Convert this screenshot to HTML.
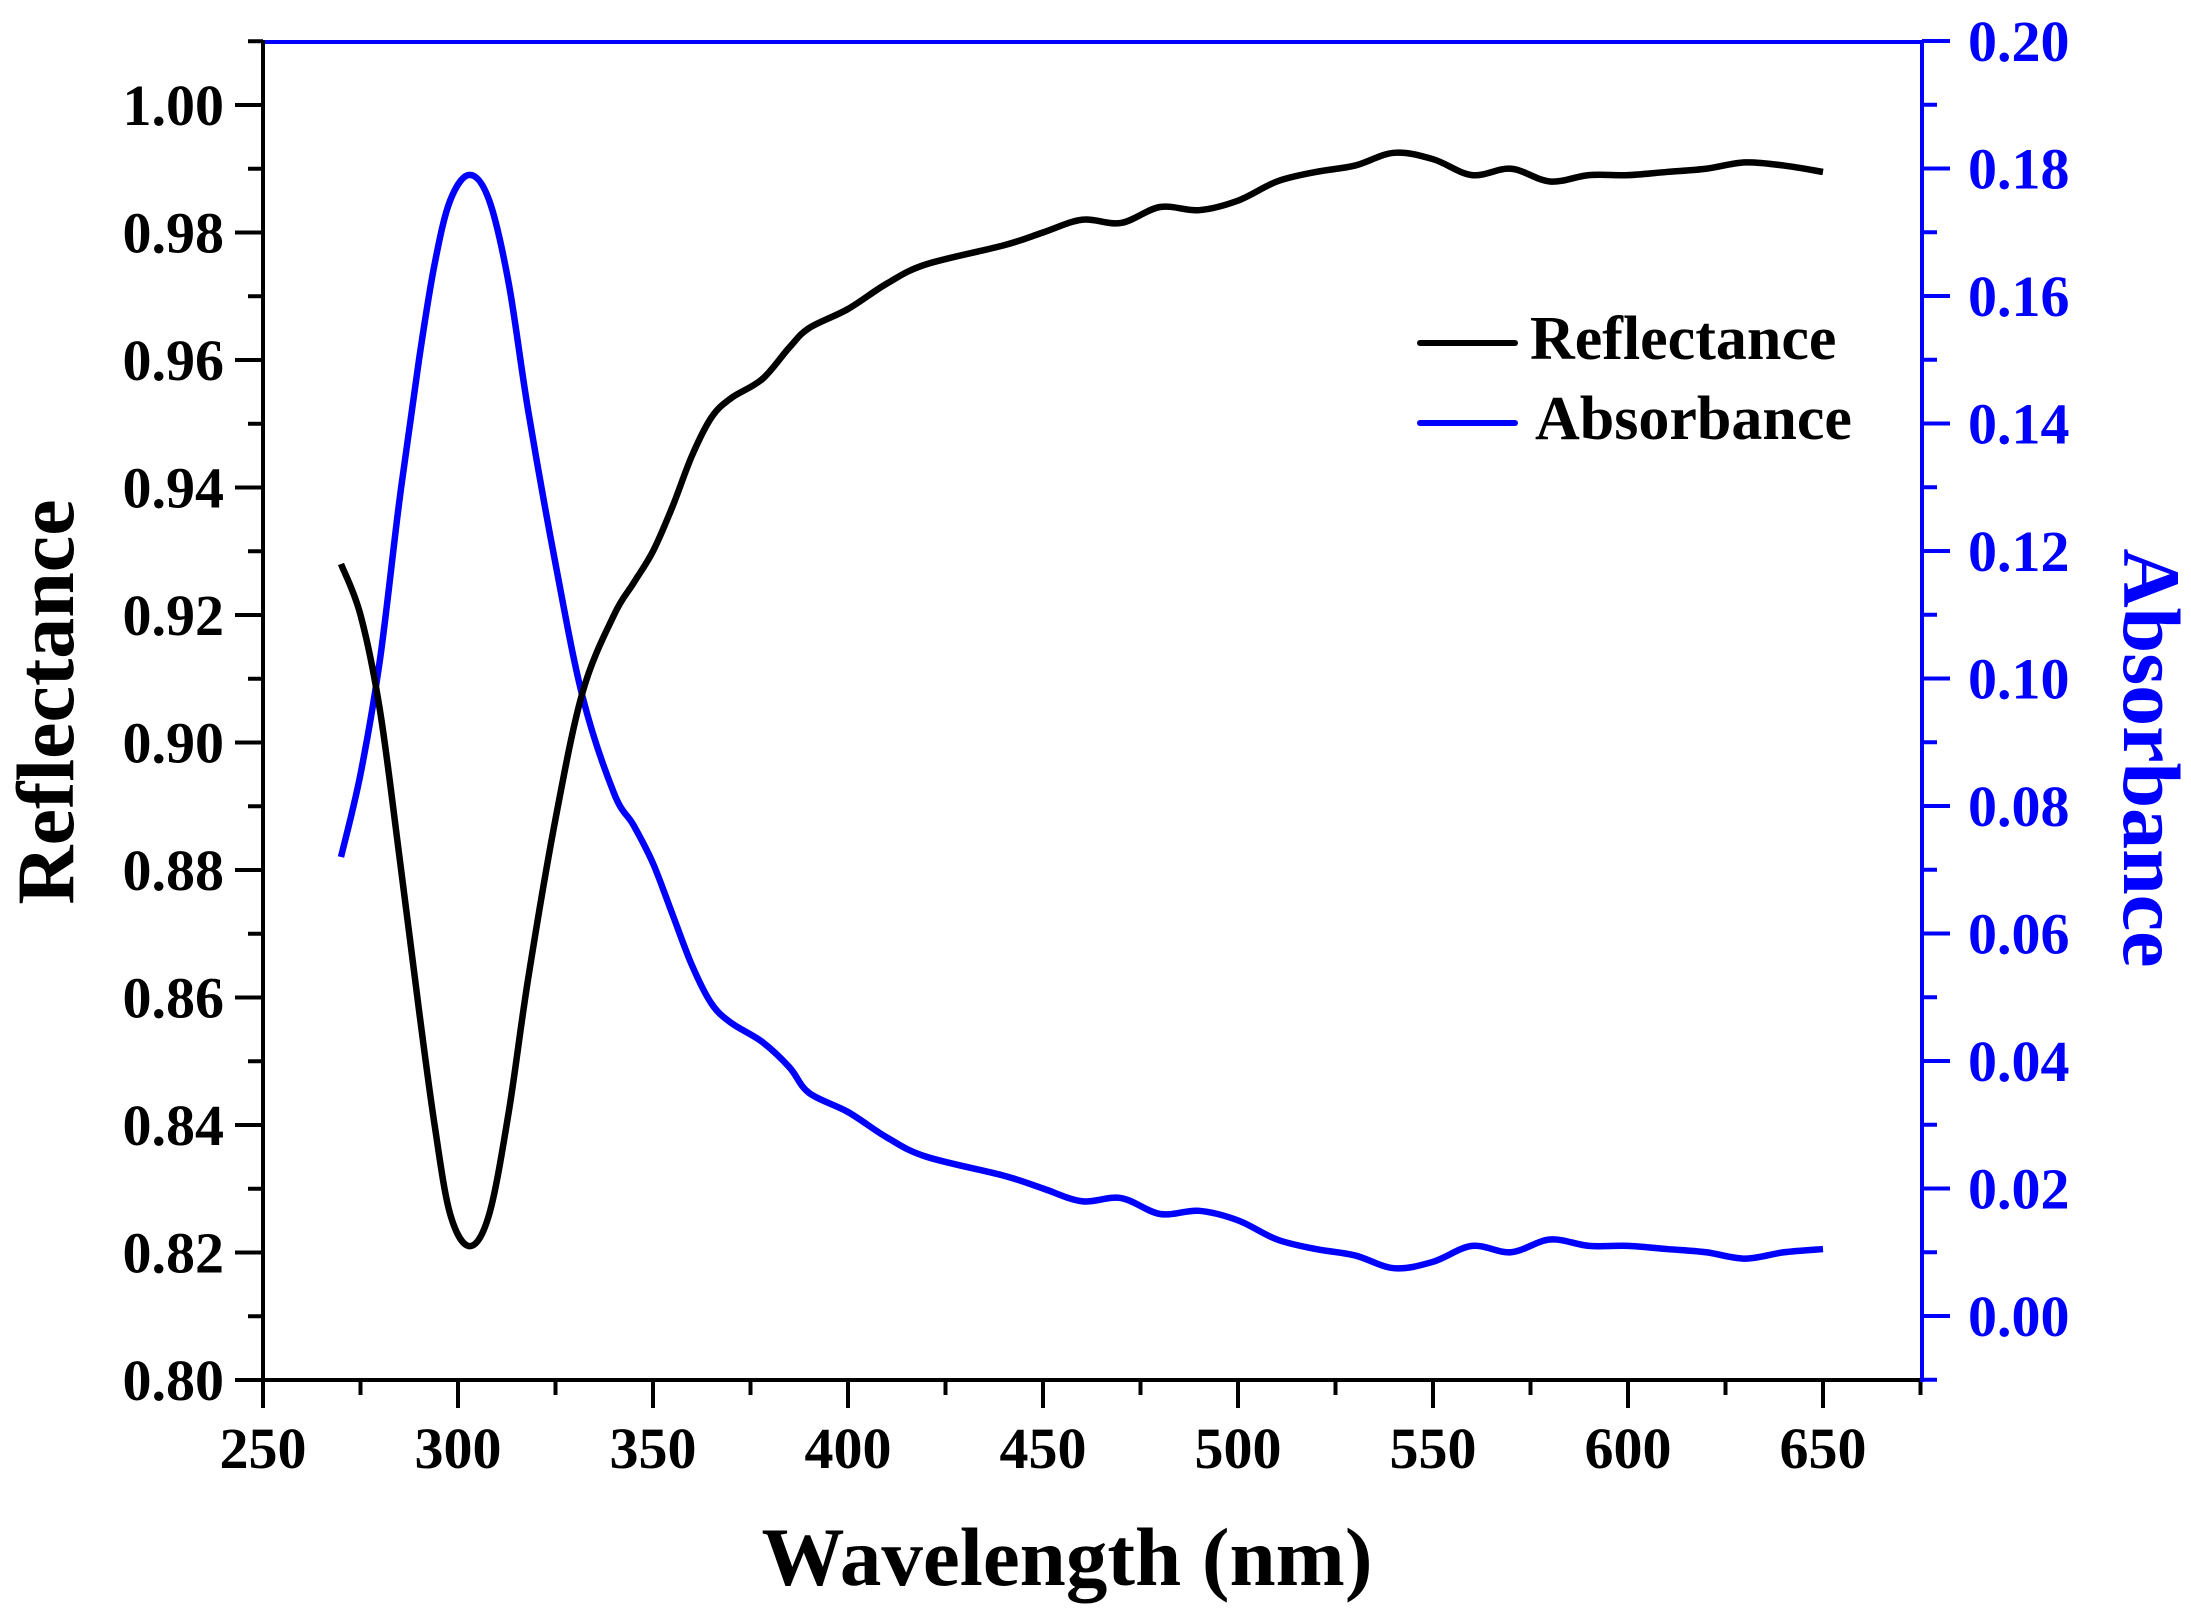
<!DOCTYPE html>
<html><head><meta charset="utf-8"><style>
html,body{margin:0;padding:0;background:#fff;}
svg{display:block;}
text{font-family:"Liberation Serif",serif;font-weight:bold;}
</style></head><body>
<svg id="s" width="2191" height="1612" viewBox="0 0 2191 1612" xmlns="http://www.w3.org/2000/svg">
<g id="g"></g>
<line x1="263" y1="42" x2="1922" y2="42" stroke="#0000ff" stroke-width="4"/>
<line x1="263" y1="40" x2="263" y2="1382" stroke="#000" stroke-width="4"/>
<line x1="261" y1="1380" x2="1922" y2="1380" stroke="#000" stroke-width="4"/>
<line x1="1922" y1="40" x2="1922" y2="1382" stroke="#0000ff" stroke-width="4"/>
<line x1="1420" y1="343" x2="1515" y2="343" stroke="#000" stroke-width="6" stroke-linecap="round"/>
<line x1="1420" y1="423" x2="1515" y2="423" stroke="#0000ff" stroke-width="6" stroke-linecap="round"/>
<text x="1530" y="359" font-size="62">Reflectance</text>
<text x="1535" y="439" font-size="62">Absorbance</text>
<text x="1067" y="1585" font-size="83" text-anchor="middle">Wavelength (nm)</text>
<text transform="translate(73,702) rotate(-90)" font-size="82" text-anchor="middle">Reflectance</text>
<text transform="translate(2124,758) rotate(90)" font-size="82" text-anchor="middle" fill="#0000ff">Absorbance</text>
</svg>
<script>
var g=document.getElementById('g'),NS='http://www.w3.org/2000/svg';
function X(n){return 263+(n-250)*3.9;}
function YL(v){return 1380-(v-0.80)/0.02*127.5;}
function YR(v){return 1316-v/0.02*127.5;}
function el(t,a,txt){var e=document.createElementNS(NS,t);for(var k in a)e.setAttribute(k,a[k]);if(txt)e.textContent=txt;g.appendChild(e);return e;}
for(var n=250;n<=675;n+=25){var maj=(n%50==0);el('line',{x1:X(n),y1:1380,x2:X(n),y2:1380+(maj?28:15),stroke:'#000','stroke-width':4});
 if(maj&&n<=650)el('text',{x:X(n),y:1468,'font-size':58,'text-anchor':'middle'},String(n));}
for(var i=0;i<=21;i++){var v=0.80+i*0.01,y=YL(v),maj=(i%2==0);el('line',{x1:263,y1:y,x2:263-(maj?28:15),y2:y,stroke:'#000','stroke-width':4});
 if(maj)el('text',{x:224,y:y+20,'font-size':58,'text-anchor':'end'},v.toFixed(2));}
for(var i=-1;i<=20;i++){var v=i*0.01,y=YR(v),maj=(i%2==0);el('line',{x1:1922,y1:y,x2:1922+(maj?28:15),y2:y,stroke:'#0000ff','stroke-width':4});
 if(maj&&i>=0)el('text',{x:1968,y:y+20,'font-size':58,fill:'#0000ff'},v.toFixed(2));}
var R=[[270,.928],[275,.920],[280,.905],[285,.882],[290,.858],[294,.840],[298,.826],[303,.821],[308,.826],[313,.842],[318,.863],[325,.888],[332,.908],[340,.920],[345,.925],[350,.930],[355,.937],[360,.945],[365,.951],[370,.954],[378,.957],[385,.962],[390,.965],[400,.968],[410,.972],[420,.975],[440,.978],[450,.980],[460,.982],[470,.9815],[480,.984],[490,.9835],[500,.985],[510,.988],[520,.9895],[530,.9905],[540,.9925],[550,.9915],[560,.989],[570,.990],[580,.988],[590,.989],[600,.989],[610,.9895],[620,.990],[630,.991],[640,.9905],[650,.9895]];
var A=[[270,.072],[275,.085],[280,.103],[285,.128],[290,.150],[294,.165],[298,.175],[303,.179],[308,.175],[313,.162],[318,.142],[325,.118],[332,.097],[340,.082],[345,.077],[350,.071],[355,.063],[360,.055],[365,.049],[370,.046],[378,.043],[385,.039],[390,.035],[400,.032],[410,.028],[420,.025],[440,.022],[450,.020],[460,.018],[470,.0185],[480,.016],[490,.0165],[500,.015],[510,.012],[520,.0105],[530,.0095],[540,.0075],[550,.0085],[560,.011],[570,.010],[580,.012],[590,.011],[600,.011],[610,.0105],[620,.010],[630,.009],[640,.010],[650,.0105]];
function path(d,fy){var p=d.map(function(q){return [X(q[0]),fy(q[1])];});var s='M'+p[0][0]+','+p[0][1];
 for(var i=0;i<p.length-1;i++){var p0=p[i-1]||p[i],p1=p[i],p2=p[i+1],p3=p[i+2]||p2;
  s+=' C'+(p1[0]+(p2[0]-p0[0])/6)+','+(p1[1]+(p2[1]-p0[1])/6)+' '+(p2[0]-(p3[0]-p1[0])/6)+','+(p2[1]-(p3[1]-p1[1])/6)+' '+p2[0]+','+p2[1];}
 return s;}
el('path',{d:path(A,YR),fill:'none',stroke:'#0000ff','stroke-width':6.5,'stroke-linejoin':'round'});
el('path',{d:path(R,YL),fill:'none',stroke:'#000','stroke-width':6.5,'stroke-linejoin':'round'});
</script>
</body></html>
